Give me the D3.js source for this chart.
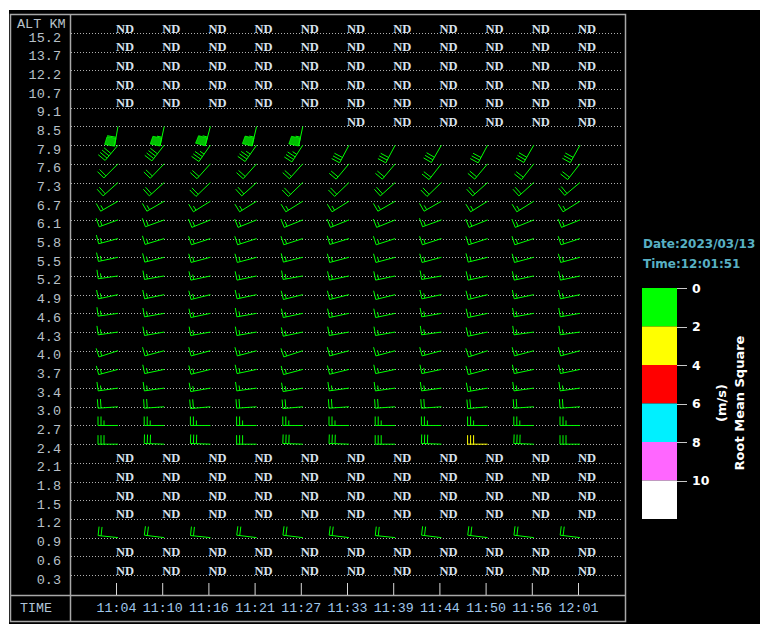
<!DOCTYPE html>
<html><head><meta charset="utf-8">
<script src="https://cdn.jsdelivr.net/npm/d3@7"></script>
<style>html,body{margin:0;padding:0;background:#fff;}svg{display:block;}</style>
</head><body>
<svg id="c" width="760" height="624"></svg>
<script>
const altitudes = ["15.2","13.7","12.2","10.7","9.1","8.5","7.9","7.6","7.3","6.7","6.1","5.8","5.5","5.2","4.9","4.6","4.3","4.0","3.7","3.4","3.0","2.7","2.4","2.1","1.8","1.5","1.2","0.9","0.6","0.3"];
const times = ["11:04","11:10","11:16","11:21","11:27","11:33","11:39","11:44","11:50","11:56","12:01"];
const N = null;
// wind direction (deg, from), null = ND
const windDir = [
 [N,N,N,N,N,N,N,N,N,N,N],
 [N,N,N,N,N,N,N,N,N,N,N],
 [N,N,N,N,N,N,N,N,N,N,N],
 [N,N,N,N,N,N,N,N,N,N,N],
 [N,N,N,N,N,N,N,N,N,N,N],
 [190,192,195,193,192,N,N,N,N,N,N],
 [220,218,215,215,213,208,208,210,208,210,209],
 [225,224,222,222,222,220,220,218,220,218,218],
 [228,228,226,228,226,226,228,226,228,228,230],
 [240,240,238,238,238,238,240,240,238,238,238],
 [250,250,248,248,248,248,248,250,248,248,248],
 [255,253,252,252,252,253,252,252,252,252,252],
 [258,256,255,255,256,255,255,255,256,255,255],
 [262,260,258,258,260,258,258,260,258,258,258],
 [258,258,256,258,256,256,256,258,256,258,258],
 [262,260,258,260,258,258,258,260,258,260,260],
 [262,260,260,260,258,260,260,262,258,262,262],
 [252,255,255,255,252,255,255,255,252,255,255],
 [255,258,256,258,255,256,258,258,255,258,258],
 [262,262,260,262,260,262,262,262,260,262,262],
 [266,266,265,266,265,266,266,266,265,266,266],
 [270,270,270,270,270,270,270,270,270,270,270],
 [270,272,272,270,272,272,270,272,270,272,270],
 [N,N,N,N,N,N,N,N,N,N,N],
 [N,N,N,N,N,N,N,N,N,N,N],
 [N,N,N,N,N,N,N,N,N,N,N],
 [N,N,N,N,N,N,N,N,N,N,N],
 [276,277,276,277,277,277,276,277,277,277,277],
 [N,N,N,N,N,N,N,N,N,N,N],
 [N,N,N,N,N,N,N,N,N,N,N]
];
// wind speed (kt)
const windSpd = [
 [N,N,N,N,N,N,N,N,N,N,N],
 [N,N,N,N,N,N,N,N,N,N,N],
 [N,N,N,N,N,N,N,N,N,N,N],
 [N,N,N,N,N,N,N,N,N,N,N],
 [N,N,N,N,N,N,N,N,N,N,N],
 [60,55,55,55,55,N,N,N,N,N,N],
 [40,40,35,35,35,30,30,30,30,30,30],
 [20,20,20,20,20,20,20,20,20,20,20],
 [20,20,20,20,20,20,20,20,20,20,20],
 [15,15,15,15,15,15,15,15,15,15,15],
 [15,15,15,15,15,15,15,15,15,15,15],
 [15,15,15,15,15,15,15,15,15,15,15],
 [15,15,15,15,15,15,15,15,15,15,15],
 [15,15,15,15,15,15,15,15,15,15,15],
 [15,15,15,15,15,15,15,15,15,15,15],
 [15,15,15,15,15,15,15,15,15,15,15],
 [15,15,15,15,15,15,15,15,15,15,15],
 [15,15,15,15,15,15,15,15,15,15,15],
 [15,15,15,15,15,15,15,15,15,15,15],
 [15,15,15,15,15,15,15,15,15,15,15],
 [20,20,20,20,20,20,20,20,20,20,20],
 [25,25,25,25,25,25,25,25,25,25,25],
 [30,30,30,30,30,30,30,30,30,30,30],
 [N,N,N,N,N,N,N,N,N,N,N],
 [N,N,N,N,N,N,N,N,N,N,N],
 [N,N,N,N,N,N,N,N,N,N,N],
 [N,N,N,N,N,N,N,N,N,N,N],
 [20,20,20,20,20,20,20,20,20,20,20],
 [N,N,N,N,N,N,N,N,N,N,N],
 [N,N,N,N,N,N,N,N,N,N,N]
];
// root mean square (m/s)
const rmsVal = [
 [N,N,N,N,N,N,N,N,N,N,N],
 [N,N,N,N,N,N,N,N,N,N,N],
 [N,N,N,N,N,N,N,N,N,N,N],
 [N,N,N,N,N,N,N,N,N,N,N],
 [N,N,N,N,N,N,N,N,N,N,N],
 [1,1,1,1,1,N,N,N,N,N,N],
 [1,1,1,1,1,1,1,1,1,1,1],
 [1,1,1,1,1,1,1,1,1,1,1],
 [1,1,1,1,1,1,1,1,1,1,1],
 [1,1,1,1,1,1,1,1,1,1,1],
 [1,1,1,1,1,1,1,1,1,1,1],
 [1,1,1,1,1,1,1,1,1,1,1],
 [1,1,1,1,1,1,1,1,1,1,1],
 [1,1,1,1,1,1,1,1,1,1,1],
 [1,1,1,1,1,1,1,1,1,1,1],
 [1,1,1,1,1,1,1,1,1,1,1],
 [1,1,1,1,1,1,1,1,1,1,1],
 [1,1,1,1,1,1,1,1,1,1,1],
 [1,1,1,1,1,1,1,1,1,1,1],
 [1,1,1,1,1,1,1,1,1,1,1],
 [1,1,1,1,1,1,1,1,1,1,1],
 [1,1,1,1,1,1,1,1,1,1,1],
 [1,1,1,1,1,1,1,1,3,1,1],
 [N,N,N,N,N,N,N,N,N,N,N],
 [N,N,N,N,N,N,N,N,N,N,N],
 [N,N,N,N,N,N,N,N,N,N,N],
 [N,N,N,N,N,N,N,N,N,N,N],
 [1,1,1,1,1,1,1,1,1,1,1],
 [N,N,N,N,N,N,N,N,N,N,N],
 [N,N,N,N,N,N,N,N,N,N,N]
];
const rmsTicks = ["0","2","4","6","8","10"];
const rmsBreaks = [2,4,6,8,10];
const rmsColors = ["#00ff00","#ffff00","#ff0000","#00f0ff","#ff66ff","#ffffff"];
const dateText = "Date:2023/03/13";
const timeText = "Time:12:01:51";

const svg = d3.select("#c");
svg.append("rect").attr("x",9).attr("y",10).attr("width",751).attr("height",614).attr("fill","#000");

const y = d3.scalePoint().domain(altitudes).range([33, 575]);
const x = d3.scalePoint().domain(times).range([116, 578]);
const color = d3.scaleThreshold().domain(rmsBreaks).range(rmsColors);

const gray = "#a8a8a8";
// frame
svg.append("rect").attr("x",10.5).attr("y",14.5).attr("width",615).attr("height",607)
  .attr("fill","none").attr("stroke",gray).attr("stroke-width",1.5);
svg.append("line").attr("x1",70.5).attr("x2",70.5).attr("y1",14.5).attr("y2",621.5).attr("stroke",gray).attr("stroke-width",1.5);
svg.append("line").attr("x1",10.5).attr("x2",625.5).attr("y1",595.5).attr("y2",595.5).attr("stroke",gray).attr("stroke-width",1.5);

// dotted grid
svg.append("g").selectAll("line").data(altitudes).join("line")
  .attr("x1",71).attr("x2",623)
  .attr("y1",d=>Math.round(y(d))+0.5).attr("y2",d=>Math.round(y(d))+0.5)
  .attr("stroke","#b0b0b0").attr("stroke-width",1).attr("stroke-dasharray","1,2");

// y labels
const mono = "'Liberation Mono', 'DejaVu Sans Mono', monospace";
svg.append("text").attr("x",17).attr("y",27.5).text("ALT KM")
  .attr("font-family",mono).attr("font-size","13.5px").attr("fill","#b8c0c8");
svg.append("g").selectAll("text").data(altitudes).join("text")
  .attr("x",61).attr("y",d=>y(d)+8.5).attr("text-anchor","end").text(d=>d)
  .attr("font-family",mono).attr("font-size","13.5px").attr("fill","#b8c0c8");

// time axis
const xAxis = d3.axisBottom(x).tickSize(12).tickSizeOuter(0);
const gx = svg.append("g").attr("transform","translate(0,583)").call(xAxis);
gx.select(".domain").remove();
gx.selectAll(".tick line").attr("stroke","#d8d8d8").attr("y1",0).attr("y2",12);
gx.selectAll(".tick text").attr("y",28.5).attr("dy",0).attr("font-family",mono)
  .attr("font-size","13.3px").attr("fill","#a0c8ec");
svg.append("text").attr("x",20).attr("y",611.5).text("TIME")
  .attr("font-family",mono).attr("font-size","13.3px").attr("fill","#b0c4d8");

// cells
const cells = [];
altitudes.forEach((a,i)=>times.forEach((t,j)=>{
  cells.push({alt:a,time:t,dir:windDir[i][j],spd:windSpd[i][j],rms:rmsVal[i][j]});
}));

// ND
svg.append("g").selectAll("text").data(cells.filter(c=>c.dir===null)).join("text")
  .attr("x",d=>x(d.time)).attr("y",d=>y(d.alt)-0.5).text("ND")
  .attr("font-family","'Liberation Serif', serif").attr("font-weight","bold")
  .attr("font-size","12.5px").attr("fill","#d8e2ee");

// wind barbs
function barb(c){
  const sx = x(c.time)+2, sy = y(c.alt);
  const r = c.dir*Math.PI/180;
  const ux = Math.sin(r), uy = -Math.cos(r);
  const px = -uy, py = ux;
  const L = 20;
  const q = p => [sx+p*ux, sy+p*uy];
  let path = `M${sx},${sy}L${q(L)[0]},${q(L)[1]}`;
  let fill = "";
  let s = Math.round(c.spd/5)*5;
  const nP = Math.floor(s/50); s -= nP*50;
  const nF = Math.floor(s/10); s -= nF*10;
  const nH = s>=5?1:0;
  let pos = L;
  for(let k=0;k<nP;k++){
    const a=q(pos), b=q(pos-8);
    fill += `M${a[0]},${a[1]}L${a[0]+10*px},${a[1]+10*py}L${b[0]+9*px},${b[1]+9*py}L${b[0]},${b[1]}Z`;
    pos -= 9;
  }
  for(let k=0;k<nF;k++){
    const a=q(pos);
    path += `M${a[0]},${a[1]}L${a[0]+9*px},${a[1]+9*py}`;
    pos -= 3;
  }
  if(nH){
    if(pos===L) pos -= 3;
    const a=q(pos);
    path += `M${a[0]},${a[1]}L${a[0]+5*px},${a[1]+5*py}`;
  }
  return {path, fill};
}
const gb = svg.append("g");
cells.filter(c=>c.dir!==null).forEach(c=>{
  const b = barb(c), col = color(c.rms);
  gb.append("path").attr("d",b.path).attr("fill","none").attr("stroke",col).attr("stroke-width",1);
  if(b.fill) gb.append("path").attr("d",b.fill).attr("fill",col).attr("fill-opacity",0.75).attr("stroke",col).attr("stroke-width",0.8);
});

// legend
const bold = "'DejaVu Sans', Verdana, sans-serif";
svg.append("text").attr("x",643).attr("y",248).text(dateText)
  .attr("font-family",bold).attr("font-weight","bold").attr("font-size","12px").attr("fill","#58b0c4");
svg.append("text").attr("x",643).attr("y",268).text(timeText)
  .attr("font-family",bold).attr("font-weight","bold").attr("font-size","12px").attr("fill","#58b0c4");

const ly = d3.scaleLinear().domain([0,12]).range([288,519]);
svg.append("g").selectAll("rect").data(rmsColors).join("rect")
  .attr("x",642).attr("width",35)
  .attr("y",(d,i)=>ly(i*2)).attr("height",(d,i)=>ly(i*2+2)-ly(i*2))
  .attr("fill",d=>d);
svg.append("g").selectAll("line").data(rmsTicks).join("line")
  .attr("x1",677).attr("x2",687)
  .attr("y1",d=>Math.round(ly(+d))+0.5).attr("y2",d=>Math.round(ly(+d))+0.5)
  .attr("stroke","#c8c8c8");
svg.append("g").selectAll("text").data(rmsTicks).join("text")
  .attr("x",692).attr("y",d=>ly(+d)+4.5).text(d=>d)
  .attr("font-family",bold).attr("font-weight","bold").attr("font-size","12.5px").attr("fill","#fff");
svg.append("text").attr("transform","translate(726,403) rotate(-90)").attr("text-anchor","middle")
  .text("(m/s)").attr("font-family",bold).attr("font-weight","bold").attr("font-size","13px").attr("fill","#fff");
svg.append("text").attr("transform","translate(744,403) rotate(-90)").attr("text-anchor","middle")
  .text("Root Mean Square").attr("font-family",bold).attr("font-weight","bold").attr("font-size","13px").attr("fill","#fff");
</script>
</body></html>
